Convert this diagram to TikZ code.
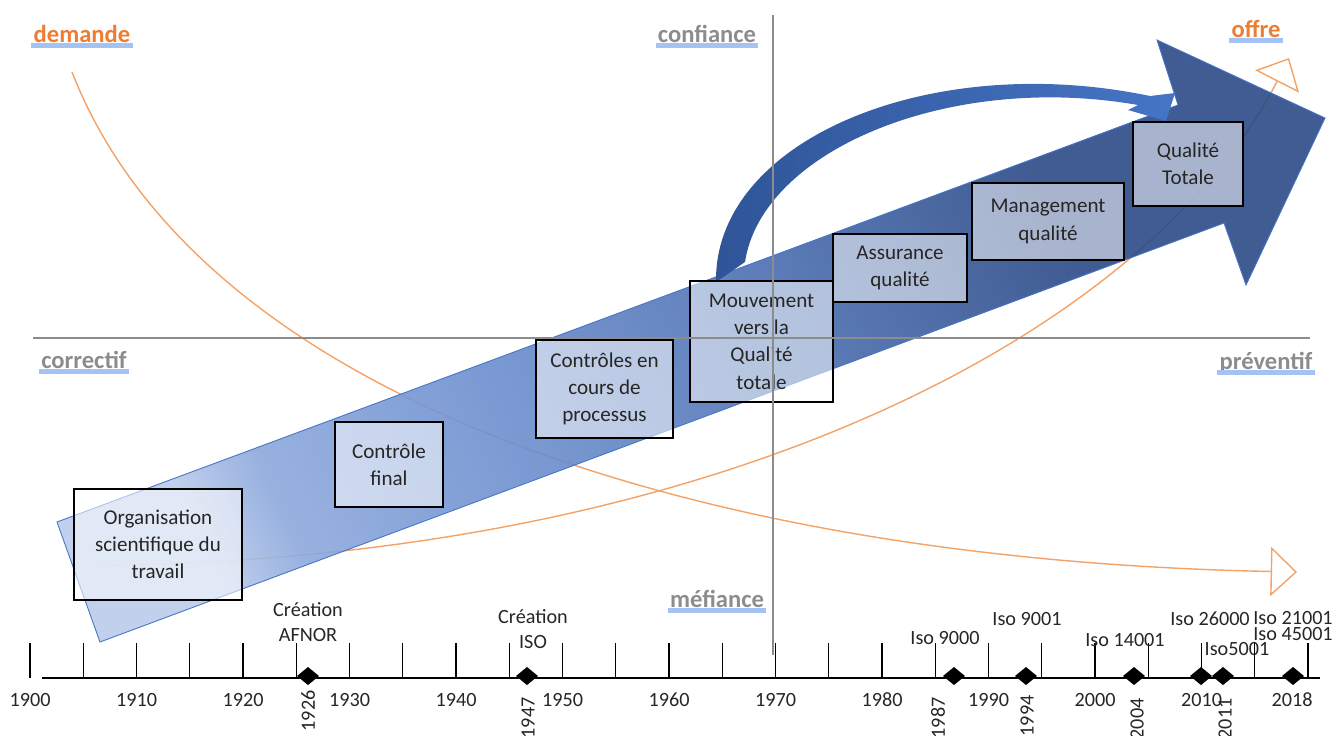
\documentclass[tikz,border=0pt]{standalone}
\usepackage{fontspec}
\setmainfont{Carlito}
\usepackage{tikz}
\usetikzlibrary{arrows.meta}

\definecolor{arrowlight}{HTML}{BACBEA}
\definecolor{arrowsoft}{HTML}{8DA9DC}
\definecolor{arrowmid}{HTML}{6E90CF}
\definecolor{arrowdeep}{HTML}{4A6DB0}
\definecolor{arrowdark}{HTML}{2B4A86}
\definecolor{bendlow}{HTML}{2F5597}
\definecolor{bendhigh}{HTML}{4674C6}
\definecolor{orangetxt}{HTML}{ED7D31}
\definecolor{orangeline}{HTML}{F4A266}
\definecolor{axisgray}{HTML}{8C8C8C}
\definecolor{hilite}{HTML}{A4C2F4}

\pgfdeclarehorizontalshading{arrowshade}{100bp}{color(0bp)=(arrowlight); color(25bp)=(arrowlight); color(29bp)=(arrowsoft); color(40bp)=(arrowmid); color(55bp)=(arrowdeep); color(68bp)=(arrowdark); color(100bp)=(arrowdark)}

\begin{document}
\begin{tikzpicture}[x=0.02cm, y=-0.02cm]
        % Define node styles
        \tikzstyle{stage} = [draw, line width=0.9pt, fill=white, fill opacity=0.55, text opacity=1, text=black!85, align=center, font=\fontsize{12}{15.5}\selectfont, inner sep=0pt]
        \tikzstyle{axlabel} = [font=\bfseries\fontsize{14}{16}\selectfont, inner sep=0pt, text depth=0pt, anchor=base, text=axisgray]
        \tikzstyle{tlabel} = [font=\fontsize{11.5}{14.2}\selectfont, align=center, inner sep=0pt, text=black!85]
        \tikzstyle{trendline} = [draw=orangeline, line width=0.8pt, -{Triangle[open, length=15pt, width=28pt]}]
        \tikzstyle{axisline} = [draw=axisgray, line width=1.6pt]
        \tikzstyle{tline} = [draw=black, line width=0.8pt]

        \useasboundingbox (0,0) rectangle (1337,735);

        % Offre / demande curves
        \coordinate (demstart) at (72,72);
        \coordinate (demend) at (1297,572);
        \coordinate (offstart) at (100,565);
        \coordinate (offend) at (1289,58);
        \draw[trendline] (demstart) .. controls (200,400) and (700,560) .. (demend);
        \draw[trendline] (offstart) .. controls (720,560) and (1150,330) .. (offend);

        % Big arrow
        \path[draw=bendhigh, line width=0.5pt, shading=arrowshade, shading angle=25, fill opacity=0.9]
            (100,642) -- (57,522) -- (1178,105) -- (1157,40) -- (1325,118) -- (1246,285) -- (1224,223) -- cycle;

        % Bent arrow
        \coordinate (bendfrom) at (716,282);
        \coordinate (bendto) at (1166,121);
        \path[left color=bendlow, right color=bendhigh]
            (bendfrom) .. controls (714,140) and (930,50) .. (1150,96)
            -- (1175,93) -- (bendto) -- (1128,110) -- (1138,105)
            .. controls (950,72) and (762,150) .. (745,262) -- cycle;

        % Draw the nodes
        \node[stage, minimum width=3.36cm, minimum height=2.22cm] (orga) at (158,544.5) {Organisation\\scientifique du\\travail};
        \node[stage, minimum width=2.16cm, minimum height=1.7cm] (cfin) at (389,464.5) {Contrôle\\final};
        \node[stage, minimum width=2.74cm, minimum height=1.96cm] (cproc) at (604.5,389) {Contrôles en\\cours de\\processus};
        \node[stage, minimum width=2.86cm, minimum height=2.42cm] (mvt) at (761.5,341.5) {Mouvement\\vers la\\Qualité\\totale};
        \node[stage, minimum width=2.68cm, minimum height=1.36cm] (assur) at (900,268) {Assurance\\qualité};
        \node[stage, minimum width=3.04cm, minimum height=1.54cm] (mgmt) at (1048,221.5) {Management\\qualité};
        \node[stage, minimum width=2.2cm, minimum height=1.68cm] (qt) at (1188,164) {Qualité\\Totale};

        % Axes
        \coordinate (ctop) at (773,15);
        \coordinate (cbot) at (773,655);
        \coordinate (cleft) at (33,338);
        \coordinate (cright) at (1310,338);
        \draw[axisline] (ctop) -- (cbot);
        \draw[axisline] (cleft) -- (cright);

        \node[axlabel, text=orangetxt] (dem) at (82,42) {demande};
        \node[axlabel] (conf) at (707,42) {confiance};
        \node[axlabel, text=orangetxt] (off) at (1256,37) {offre};
        \node[axlabel] (corr) at (84,368) {correctif};
        \node[axlabel] (prev) at (1266,369) {préventif};
        \node[axlabel] (mef) at (717,607) {méfiance};
        \foreach \n in {dem,conf,off,corr,prev,mef}
            \draw[hilite, line width=3pt] ([shift={(-2,3)}]\n.south west) -- ([shift={(2,3)}]\n.south east);

        % Timeline
        \draw[tline] (42,678) -- (1320,678);
        \foreach \yr in {1900,1905,...,2020}
            \draw[tline] ({30+(\yr-1900)*10.65},643) -- ++(0,35);
        \foreach \yr in {1900,1910,...,2010}
            \node[tlabel] (y\yr) at ({30+(\yr-1900)*10.65},700) {\yr};
        \node[tlabel] (y2018) at (1292,700) {2018};

        \foreach \dx in {308,527,954,1026,1134,1201,1223,1293}
            \fill (\dx,676) +(-11,0) -- +(0,-9) -- +(11,0) -- +(0,9) -- cycle;
        \foreach \lx/\ly/\yr in {308/690/1926, 528/697/1947, 938/697/1987, 1027/695/1994, 1137/698/2004, 1225/698/2011}
            \node[tlabel, rotate=90, anchor=east] (r\yr) at (\lx,\ly) {\yr};

        \node[tlabel] (afnor) at (308,622) {Création\\AFNOR};
        \node[tlabel] (isoc) at (533,629) {Création\\ISO};
        \node[tlabel] (i9000) at (945,638) {Iso 9000};
        \node[tlabel] (i9001) at (1027,619) {Iso 9001};
        \node[tlabel] (i14001) at (1125,640) {Iso 14001};
        \node[tlabel] (i26000) at (1210,619) {Iso 26000};
        \node[tlabel] (i5001) at (1237,649) {Iso5001};
        \node[tlabel] (i21001) at (1293,618) {Iso 21001};
        \node[tlabel] (i45001) at (1293,634) {Iso 45001};
    \end{tikzpicture}
\end{document}
